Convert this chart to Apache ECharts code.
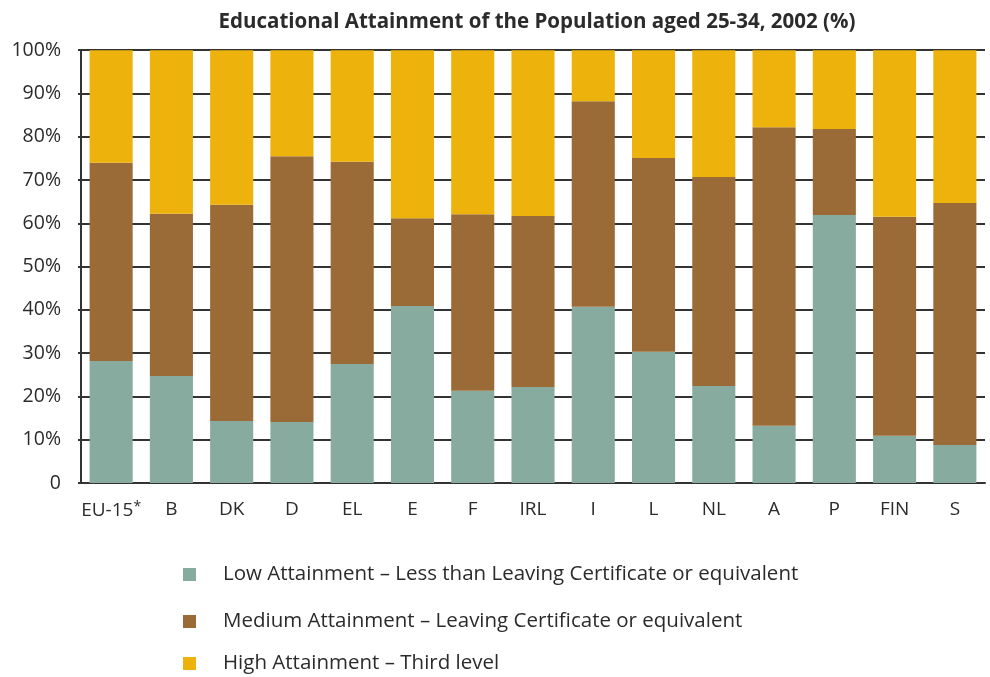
<!DOCTYPE html>
<html>
<head>
<meta charset="utf-8">
<script src="https://cdn.jsdelivr.net/npm/echarts@6/dist/echarts.min.js"></script>
<style>
  html, body { margin: 0; padding: 0; background: #ffffff; }
  #chart { width: 990px; height: 677px; }
</style>
</head>
<body>
<div id="chart"></div>
<script>
// Countries (EU-15 average first)
const countries = ['EU-15', 'B', 'DK', 'D', 'EL', 'E', 'F', 'IRL', 'I', 'L', 'NL', 'A', 'P', 'FIN', 'S'];

// Share of population aged 25-34 by attainment level (%)
const lowAttainment    = [28.2, 24.7, 14.3, 14.1, 27.5, 40.9, 21.3, 22.2, 40.7, 30.3, 22.4, 13.2, 61.9, 10.9, 8.8];
const mediumAttainment = [45.8, 37.5, 50.0, 61.4, 46.7, 20.3, 40.8, 39.5, 47.5, 44.8, 48.3, 69.0, 19.9, 50.6, 55.9];
const highAttainment   = [26.0, 37.8, 35.7, 24.5, 25.8, 38.8, 37.9, 38.3, 11.8, 24.9, 29.3, 17.8, 18.2, 38.5, 35.3];

const seriesNames = [
  'Low Attainment \u2013 Less than Leaving Certificate or equivalent',
  'Medium Attainment \u2013 Leaving Certificate or equivalent',
  'High Attainment \u2013 Third level'
];

const yTicks = [0, 10, 20, 30, 40, 50, 60, 70, 80, 90, 100];

const colors = ['#88ab9f', '#9a6b36', '#edb20b'];
const FONT = '"Open Sans", "Noto Sans", sans-serif';
const TEXT = '#2b2b2b';

const chart = echarts.init(document.getElementById('chart'), null, { renderer: 'canvas' });

// One legend block per series so each row sits at its own height
function legendAt(name, top) {
  return {
    data: [name],
    orient: 'vertical',
    left: 183,
    top: top,
    padding: 0,
    itemWidth: 13,
    itemHeight: 13,
    itemGap: 0,
    selectedMode: false,
    icon: 'rect',
    textStyle: { fontFamily: FONT, fontSize: 20.5, color: TEXT, padding: [0, 0, 0, 22] }
  };
}

const option = {
  backgroundColor: '#ffffff',
  animation: false,
  color: colors,
  title: {
    text: 'Educational Attainment of the Population aged 25-34, 2002 (%)',
    left: 532,
    textAlign: 'center',
    top: 7,
    textStyle: { fontFamily: FONT, fontSize: 20.5, fontWeight: 'bold', color: TEXT }
  },
  legend: [
    legendAt(seriesNames[0], 564),
    legendAt(seriesNames[1], 611),
    legendAt(seriesNames[2], 653)
  ],
  grid: { left: 81, top: 50.2, width: 904, height: 432.8, containLabel: false },
  xAxis: {
    type: 'category',
    data: countries,
    axisLine: { show: true, lineStyle: { color: '#333', width: 2 } },
    axisTick: { show: false },
    axisLabel: {
      interval: 0,
      margin: 17,
      fontFamily: FONT,
      fontSize: 19,
      color: TEXT,
      formatter: v => v === 'EU-15' ? 'EU-15{s|*}' : v,
      rich: { s: { fontSize: 14, verticalAlign: 'top', color: TEXT, padding: [0, 0, 8, 0] } }
    }
  },
  yAxis: {
    type: 'value',
    min: 0,
    max: 100,
    interval: 10,
    axisLine: { show: true, lineStyle: { color: '#333', width: 2 } },
    axisTick: { show: true, length: 3, lineStyle: { color: '#333', width: 2 } },
    splitLine: { show: true, lineStyle: { color: '#333', width: 2 } },
    axisLabel: {
      margin: 20,
      fontFamily: FONT,
      fontSize: 19.5,
      color: TEXT,
      formatter: v => yTicks.includes(v) ? (v === 0 ? '0' : v + '%') : ''
    }
  },
  series: [
    { name: seriesNames[0], data: lowAttainment },
    { name: seriesNames[1], data: mediumAttainment },
    { name: seriesNames[2], data: highAttainment }
  ].map(s => Object.assign({
    type: 'bar',
    stack: 'total',
    barCategoryGap: '28.5%',
    z: 3
  }, s))
};

chart.setOption(option);
</script>
</body>
</html>
